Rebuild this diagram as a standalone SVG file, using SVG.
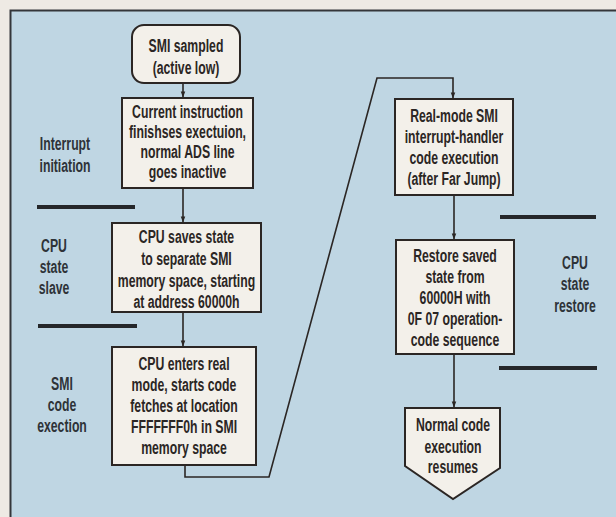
<svg xmlns="http://www.w3.org/2000/svg" width="616" height="517" viewBox="0 0 616 517">
  <defs>
    <marker id="arrow" viewBox="0 0 8 8" refX="7.5" refY="4" markerWidth="6" markerHeight="6" markerUnits="userSpaceOnUse" orient="auto">
      <path d="M0,1 L8,4 L0,7 z" fill="#2b2624"/>
    </marker>
    <style>
      .box { fill: #f3f0ea; stroke: #2b2624; stroke-width: 2; }
      .t { font-family: "Liberation Sans", Arial, sans-serif; font-weight: bold; font-size: 19px; fill: #2b2624; text-anchor: middle; }
      .lbl { font-family: "Liberation Sans", Arial, sans-serif; font-weight: bold; font-size: 19px; fill: #2e3338; text-anchor: middle; }
      .sep { stroke: #25272a; stroke-width: 4; }
      .wire { fill: none; stroke: #2b2624; stroke-width: 1.6; }
    </style>
  </defs>

  <!-- page margin and framed panel -->
  <rect x="0" y="0" width="616" height="517" fill="#eeeae4"/>
  <rect x="11" y="11" width="605" height="506" fill="#bfd6e3"/>
  <path d="M10.5,517 V10.5 H616" fill="none" stroke="#34363a" stroke-width="2"/>

  <!-- phase separators -->
  <g id="separators">
    <line class="sep" x1="37" y1="207" x2="135" y2="207"/>
    <line class="sep" x1="38" y1="326" x2="137" y2="326"/>
    <line class="sep" x1="500" y1="217" x2="596" y2="217"/>
    <line class="sep" x1="499" y1="368" x2="597" y2="368"/>
  </g>

  <!-- phase labels (condensed by horizontal scaling about the column centre) -->
  <g id="label-interrupt" transform="translate(65 0) scale(0.645 1)">
    <text class="lbl" x="0" y="150">Interrupt</text>
    <text class="lbl" x="0" y="172">initiation</text>
  </g>
  <g id="label-save" transform="translate(54 0) scale(0.645 1)">
    <text class="lbl" x="0" y="252">CPU</text>
    <text class="lbl" x="0" y="273">state</text>
    <text class="lbl" x="0" y="294">slave</text>
  </g>
  <g id="label-smi" transform="translate(62 0) scale(0.645 1)">
    <text class="lbl" x="0" y="390">SMI</text>
    <text class="lbl" x="0" y="411">code</text>
    <text class="lbl" x="0" y="432">exection</text>
  </g>
  <g id="label-restore" transform="translate(575 0) scale(0.645 1)">
    <text class="lbl" x="0" y="269">CPU</text>
    <text class="lbl" x="0" y="290">state</text>
    <text class="lbl" x="0" y="312">restore</text>
  </g>

  <!-- connectors -->
  <g id="connectors">
    <line class="wire" x1="183" y1="83" x2="183" y2="97" marker-end="url(#arrow)"/>
    <line class="wire" x1="183" y1="188" x2="183" y2="222" marker-end="url(#arrow)"/>
    <line class="wire" x1="183" y1="312" x2="183" y2="346" marker-end="url(#arrow)"/>
    <path class="wire" d="M185,465 V477 H269 L377,78 H453 V98" marker-end="url(#arrow)"/>
    <line class="wire" x1="454" y1="195" x2="454" y2="239" marker-end="url(#arrow)"/>
    <line class="wire" x1="454" y1="354" x2="454" y2="407" marker-end="url(#arrow)"/>
  </g>

  <!-- nodes -->
  <g id="smi-sampled">
    <rect class="box" x="132" y="25" width="108" height="58" rx="12"/>
    <g transform="translate(186 0) scale(0.645 1)">
      <text class="t" x="0" y="52">SMI sampled</text>
      <text class="t" x="0" y="74">(active low)</text>
    </g>
  </g>
  <g id="instruction-finish">
    <rect class="box" x="122" y="98" width="131" height="90"/>
    <g transform="translate(187.5 0) scale(0.645 1)">
      <text class="t" x="0" y="118">Current instruction</text>
      <text class="t" x="0" y="138.5">finishses exectuion,</text>
      <text class="t" x="0" y="158.5">normal ADS line</text>
      <text class="t" x="0" y="178.5">goes inactive</text>
    </g>
  </g>
  <g id="state-save">
    <rect class="box" x="112" y="223" width="149" height="89"/>
    <g transform="translate(186.5 0) scale(0.645 1)">
      <text class="t" x="0" y="243">CPU saves state</text>
      <text class="t" x="0" y="265">to separate SMI</text>
      <text class="t" x="0" y="287">memory space, starting</text>
      <text class="t" x="0" y="308">at address 60000h</text>
    </g>
  </g>
  <g id="real-mode-entry">
    <rect class="box" x="112" y="347" width="144" height="118"/>
    <g transform="translate(184 0) scale(0.645 1)">
      <text class="t" x="0" y="370">CPU enters real</text>
      <text class="t" x="0" y="391.5">mode, starts code</text>
      <text class="t" x="0" y="412.5">fetches at location</text>
      <text class="t" x="0" y="433.5">FFFFFFF0h in SMI</text>
      <text class="t" x="0" y="454.5">memory space</text>
    </g>
  </g>
  <g id="handler-execution">
    <rect class="box" x="395" y="99" width="118" height="96"/>
    <g transform="translate(454 0) scale(0.645 1)">
      <text class="t" x="0" y="122">Real-mode SMI</text>
      <text class="t" x="0" y="143">interrupt-handler</text>
      <text class="t" x="0" y="164">code execution</text>
      <text class="t" x="0" y="185">(after Far Jump)</text>
    </g>
  </g>
  <g id="state-restore">
    <rect class="box" x="396" y="240" width="118" height="114"/>
    <g transform="translate(455 0) scale(0.645 1)">
      <text class="t" x="0" y="262">Restore saved</text>
      <text class="t" x="0" y="283">state from</text>
      <text class="t" x="0" y="304">60000H with</text>
      <text class="t" x="0" y="325">0F 07 operation-</text>
      <text class="t" x="0" y="346">code sequence</text>
    </g>
  </g>
  <g id="resume">
    <path class="box" d="M405,408 H500 V468 L453,499 L405,466 z"/>
    <g transform="translate(453 0) scale(0.645 1)">
      <text class="t" x="0" y="431">Normal code</text>
      <text class="t" x="0" y="453">execution</text>
      <text class="t" x="0" y="473">resumes</text>
    </g>
  </g>
</svg>
